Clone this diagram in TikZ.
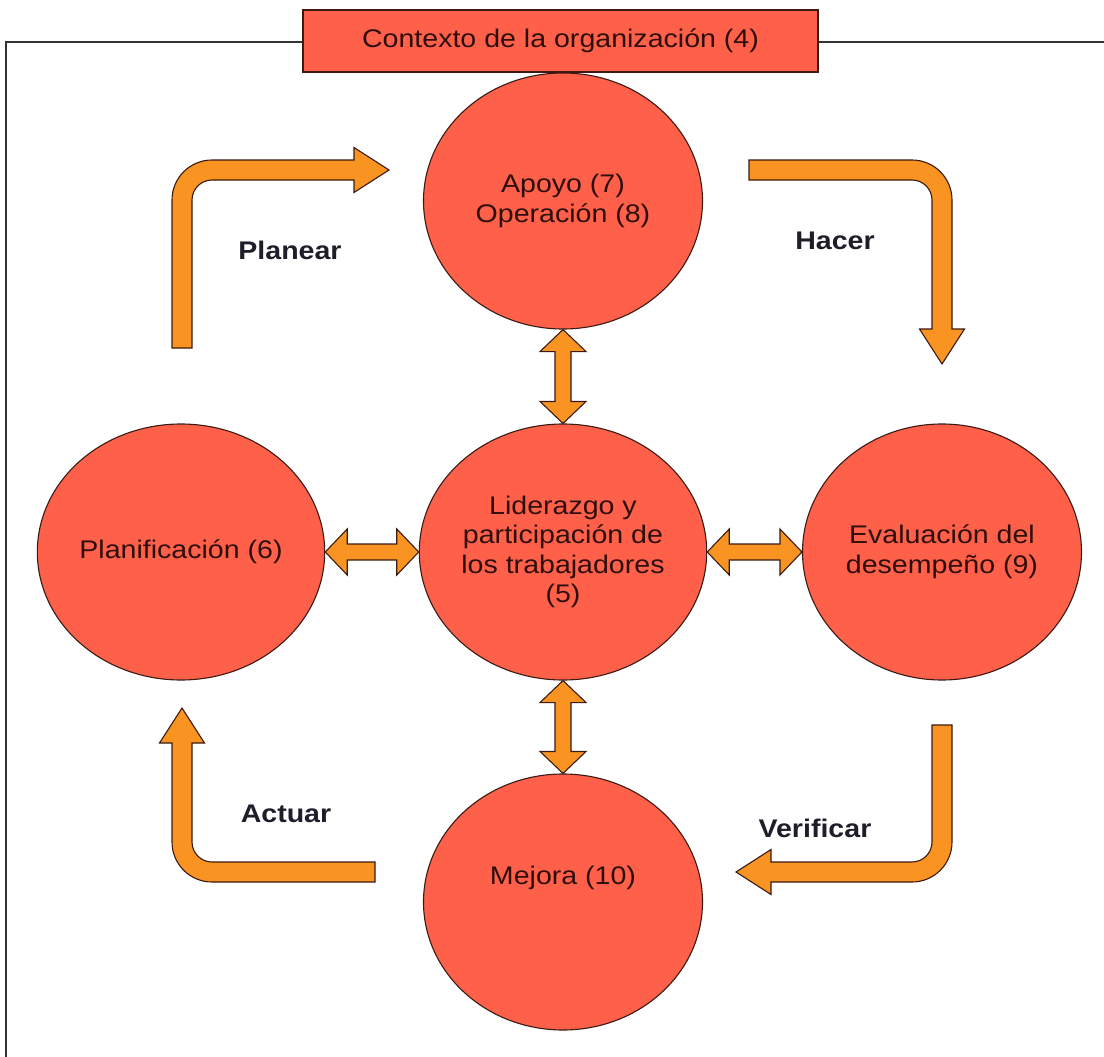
\documentclass[tikz,border=0pt]{standalone}
\usepackage{fontspec}
\setmainfont{Liberation Sans}[FakeStretch=1.12]
\usetikzlibrary{calc,shapes.geometric}

\definecolor{coral}{HTML}{FF6049}
\definecolor{flowfill}{HTML}{F99422}
\definecolor{edge}{HTML}{3A1A12}
\definecolor{stagetxt}{HTML}{2E0E0A}
\definecolor{phasetxt}{HTML}{1E1E2A}

\tikzset{
  stage/.style={ellipse, draw=edge, line width=1.1pt, fill=coral,
    minimum width=279pt, minimum height=256pt, inner sep=0pt,
    align=center, text=stagetxt, font=\fontsize{25.5}{29.5}\selectfont},
  stagetext/.style={align=center, text=stagetxt, inner sep=0pt,
    font=\fontsize{25.5}{29.5}\selectfont},
  ctxbox/.style={rectangle, draw=edge, line width=1.2pt, fill=coral,
    minimum width=515pt, minimum height=62pt, inner sep=0pt,
    text=stagetxt, font=\fontsize{25.5}{29.5}\selectfont},
  flow/.style={fill=flowfill, draw=edge, line width=1.1pt, line join=miter},
  phase/.style={text=phasetxt, inner sep=0pt,
    font=\bfseries\fontsize{25.5}{29.5}\selectfont},
  outerframe/.style={draw=black!80, line width=1.6pt}
}

% two-headed block arrow from #1 to #2
\newcommand\twoway[2]{%
  \coordinate (ta) at (#1);
  \coordinate (tb) at (#2);
  \coordinate (h1) at ($(ta)!22pt!(tb)$);
  \coordinate (h2) at ($(tb)!22pt!(ta)$);
  \filldraw[flow] (ta)
    -- ($(h1)!23pt!90:(tb)$) -- ($(h1)!8pt!90:(tb)$)
    -- ($(h2)!8pt!-90:(ta)$) -- ($(h2)!23pt!-90:(ta)$)
    -- (tb)
    -- ($(h2)!23pt!90:(ta)$) -- ($(h2)!8pt!90:(ta)$)
    -- ($(h1)!8pt!-90:(tb)$) -- ($(h1)!23pt!-90:(tb)$)
    -- cycle;
}

% bent block arrow: #1 corner, #2 head direction, #3 tail direction,
% #4 tail length, #5 distance from corner to the base of the head
\newcommand\bentflow[5]{%
  \coordinate (bo) at (#1);
  \coordinate (bh) at (#2);
  \coordinate (bt) at (#3);
  \filldraw[flow]
    ($(bo)-10*(bh)+#4*(bt)$) -- ($(bo)-10*(bh)+30*(bt)$)
    .. controls ($(bo)-10*(bh)+7.9*(bt)$) and ($(bo)+7.9*(bh)-10*(bt)$) ..
    ($(bo)+30*(bh)-10*(bt)$) -- ($(bo)+#5*(bh)-10*(bt)$)
    -- ($(bo)+#5*(bh)-22.5*(bt)$) -- ($(bo)+#5*(bh)+35*(bh)$)
    -- ($(bo)+#5*(bh)+22.5*(bt)$) -- ($(bo)+#5*(bh)+10*(bt)$)
    -- ($(bo)+30*(bh)+10*(bt)$)
    .. controls ($(bo)+19*(bh)+10*(bt)$) and ($(bo)+10*(bh)+19*(bt)$) ..
    ($(bo)+10*(bh)+30*(bt)$) -- ($(bo)+10*(bh)+#4*(bt)$) -- cycle;
}

\begin{document}
\begin{tikzpicture}[x=1pt, y=-1pt]
  \useasboundingbox (0,0) rectangle (1104,1057);

  % open frame around the cycle
  \coordinate (frameR) at (1104,42);
  \coordinate (frameTL) at (6,42);
  \coordinate (frameB) at (6,1057);
  \draw[outerframe] (frameR) -- (frameTL) -- (frameB);

  \node[ctxbox] (ctx) at (560.5,41) {Contexto de la organización (4)};

  % stages
  \node[stage] (apoyo) at (563,201) {Apoyo (7)\\Operación (8)};
  \node[stage] (lider) at (563,552) {Liderazgo y\\participación de\\los trabajadores\\(5)};
  \node[stage] (plan) at (181,552) {Planificación (6)};
  \node[stage] (eval) at (942,552) {Evaluación del\\desempeño (9)};
  \node[stage] (mejora) at (563,902) {};
  \node[stagetext] (mejoratxt) at (563,878) {Mejora (10)};

  % links to the central stage
  \twoway{apoyo.south}{lider.north}
  \twoway{lider.south}{mejora.north}
  \twoway{plan.east}{lider.west}
  \twoway{lider.east}{eval.west}

  % PHVA cycle arrows
  \coordinate (cPlan) at (182,170);
  \coordinate (cHacer) at (942,170);
  \coordinate (cVerif) at (942,872);
  \coordinate (cAct) at (182,872);
  \bentflow{cPlan}{1,0}{0,1}{178}{172}
  \bentflow{cHacer}{0,1}{-1,0}{193}{159}
  \bentflow{cVerif}{-1,0}{0,-1}{147}{171}
  \bentflow{cAct}{0,-1}{1,0}{193}{129}

  % phase labels
  \node[phase] (lPlan) at (290,250) {Planear};
  \node[phase] (lHacer) at (835,241) {Hacer};
  \node[phase] (lVerif) at (815,828) {Verificar};
  \node[phase] (lAct) at (286,814) {Actuar};
\end{tikzpicture}
\end{document}
